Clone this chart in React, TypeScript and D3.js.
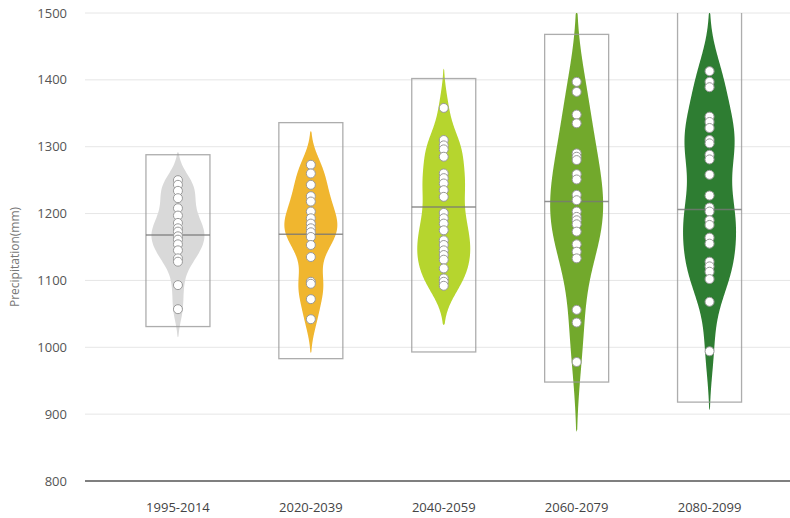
import React from 'react';
import * as d3 from 'd3';

const categories = ['1995-2014', '2020-2039', '2040-2059', '2060-2079', '2080-2099'];

const values1995 = [1250, 1243, 1234, 1223, 1208, 1197, 1186, 1178, 1173, 1166, 1161, 1154, 1145, 1133, 1128, 1093, 1057];
const values2020 = [1273, 1260, 1243, 1226, 1218, 1203, 1193, 1185, 1178, 1172, 1165, 1153, 1135, 1098, 1095, 1072, 1042];
const values2040 = [1358, 1310, 1302, 1296, 1285, 1260, 1253, 1245, 1235, 1225, 1201, 1193, 1185, 1175, 1160, 1153, 1145, 1138, 1131, 1118, 1103, 1098, 1092];
const values2060 = [1397, 1382, 1348, 1335, 1290, 1285, 1280, 1259, 1251, 1228, 1220, 1203, 1195, 1190, 1184, 1173, 1154, 1143, 1133, 1056, 1037, 978];
const values2080 = [1413, 1397, 1389, 1345, 1337, 1328, 1310, 1305, 1288, 1281, 1258, 1227, 1209, 1203, 1190, 1183, 1164, 1155, 1128, 1121, 1113, 1102, 1068, 994];

// kernel density bandwidth (mm) per period
const bandwidths = [20, 24, 28, 58, 42];
const boxLow = [1031, 983, 993, 948, 918];
const boxHigh = [1288, 1336, 1402, 1468, 1540];
const medians = [1168, 1169, 1210, 1218, 1206];
const colors = ['#d9d9d9', '#f0b62f', '#b6d52e', '#72a92c', '#2e7d32'];
const yTicks = [800, 900, 1000, 1100, 1200, 1300, 1400, 1500];

const groups = [values1995, values2020, values2040, values2060, values2080];

const W = 790;
const H = 518;
const left = 85;
const right = 790;
const top = 13;
const bottom = 481;

function kde(v: number[], bw: number, span: number) {
  const lo = (d3.min(v) as number) - span * bw;
  const hi = (d3.max(v) as number) + span * bw;
  const pts: [number, number][] = [];
  const step = (hi - lo) / 240;
  for (let t = lo; t <= hi + 1e-6; t += step) {
    const d = d3.mean(v, (x) => Math.exp(-0.5 * ((t - x) / bw) ** 2)) as number;
    pts.push([t, d / bw]);
  }
  pts[0][1] = 0;
  pts[pts.length - 1][1] = 0;
  return pts;
}

export default function App() {
  const y = d3.scaleLinear().domain([800, 1500]).range([bottom, top]);
  const x = d3.scaleBand<string>().domain(categories).range([111.5, 776]);
  const boxW = 64;
  const halfMax = 26.5;
  const font = '"Open Sans", "Segoe UI", sans-serif';

  return (
    <svg width={W} height={H} style={{ position: 'absolute', left: 0, top: 0 }}>
      <defs>
        <clipPath id="plot">
          <rect x={left} y={top} width={right - left} height={bottom - top} />
        </clipPath>
      </defs>
      {yTicks.map((t) => (
        <g key={t}>
          {t !== 800 && (
            <line x1={left} x2={right} y1={y(t)} y2={y(t)} stroke="#e6e6e6" strokeWidth={1} />
          )}
          <text x={67} y={y(t)} dy="0.35em" textAnchor="end" fontSize={13} fill="#555" fontFamily={font}>
            {t}
          </text>
        </g>
      ))}
      <text
        transform={`translate(19,${(top + bottom) / 2 + 10}) rotate(-90)`}
        textAnchor="middle"
        fontSize={12}
        fill="#777"
        fontFamily={font}
      >
        Precipitation(mm)
      </text>
      <g clipPath="url(#plot)">
        {groups.map((v, i) => {
          const cx = (x(categories[i]) as number) + x.bandwidth() / 2;
          const dens = kde(v, bandwidths[i], i === 3 ? 1.8 : 2.1);
          const maxD = d3.max(dens, (d) => d[1]) as number;
          const w = d3.scaleLinear().domain([0, maxD]).range([0, halfMax]);
          const area = d3
            .area<[number, number]>()
            .x0((d) => cx - w(d[1]))
            .x1((d) => cx + w(d[1]))
            .y((d) => y(d[0]))
            .curve(d3.curveBasis);
          return (
            <g key={i}>
              <path d={area(dens) as string} fill={colors[i]} />
              <rect
                x={cx - boxW / 2}
                y={y(boxHigh[i])}
                width={boxW}
                height={y(boxLow[i]) - y(boxHigh[i])}
                fill="none"
                stroke="#999"
                strokeOpacity={0.8}
                strokeWidth={1.3}
              />
              <line
                x1={cx - boxW / 2}
                x2={cx + boxW / 2}
                y1={y(medians[i])}
                y2={y(medians[i])}
                stroke="#777"
                strokeOpacity={0.8}
                strokeWidth={1.5}
              />
              {v.map((p, j) => (
                <circle key={j} cx={cx} cy={y(p)} r={4.5} fill="#fff" stroke="#999" strokeWidth={1} />
              ))}
            </g>
          );
        })}
      </g>
      <line x1={left} x2={right} y1={bottom} y2={bottom} stroke="#555" strokeWidth={1.5} />
      {categories.map((c) => (
        <text
          key={c}
          x={(x(c) as number) + x.bandwidth() / 2}
          y={512}
          textAnchor="middle"
          fontSize={13}
          fill="#444"
          fontFamily={font}
        >
          {c}
        </text>
      ))}
    </svg>
  );
}
